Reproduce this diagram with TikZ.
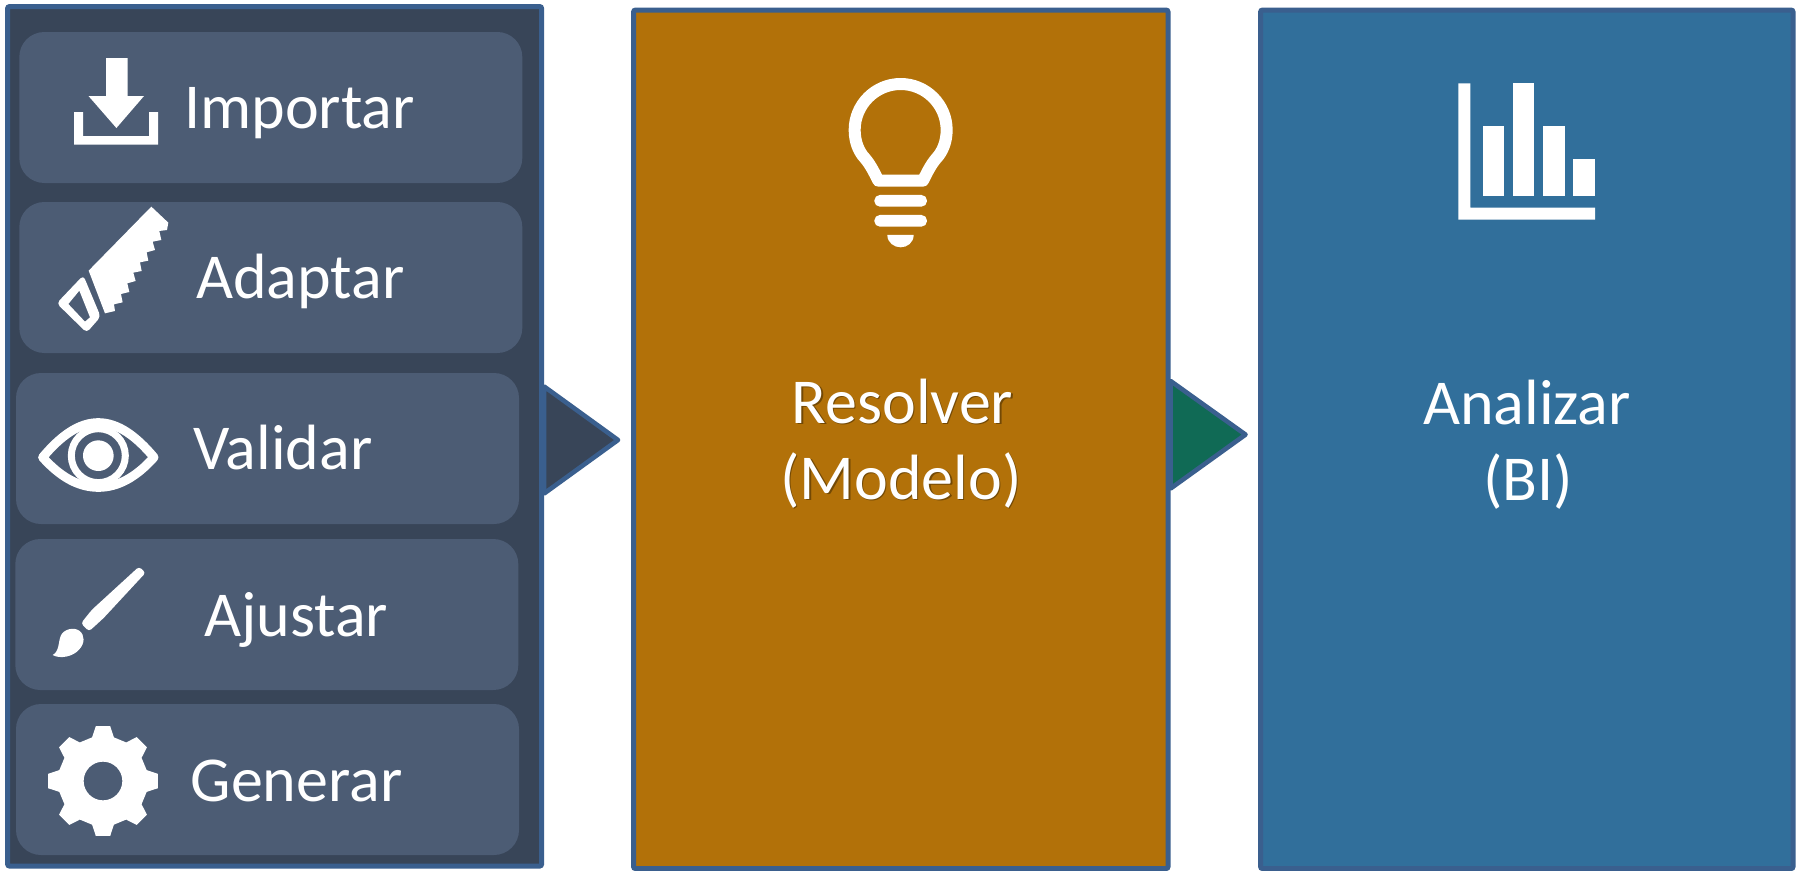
\documentclass[tikz,border=0pt]{standalone}
\usepackage{fontspec}
\setmainfont{Carlito}
\definecolor{edgeblue}{HTML}{3A5F8E}
\definecolor{panelslate}{HTML}{384558}
\definecolor{btnslate}{HTML}{4C5C74}
\definecolor{ochre}{HTML}{B27109}
\definecolor{steel}{HTML}{316F9B}
\definecolor{teal}{HTML}{106A55}
\tikzset{
  panel/.style={draw=edgeblue,line width=5pt,rounded corners=2pt,inner sep=0pt,minimum width=#1},
  btn/.style={fill=btnslate,rounded corners=25pt,inner sep=0pt,minimum width=503pt,minimum height=151pt},
  lab/.style={text=white,font=\fontsize{64}{64}\selectfont,anchor=base west,inner sep=0pt},
  clab/.style={text=white,font=\fontsize{64}{64}\selectfont,anchor=base,inner sep=0pt},
  shad/.style={text=black,opacity=0.35,font=\fontsize{64}{64}\selectfont,anchor=base,inner sep=0pt},
  tri/.style={draw=edgeblue,line width=4.6pt,line join=round}
}
\begin{document}
\begin{tikzpicture}[x=1pt,y=-1pt]
\useasboundingbox (0,0) rectangle (1803,870);
\fill[white] (0,0) rectangle (1803,870);
\node[panel=534pt,minimum height=859.5pt,fill=panelslate] (pL) at (274.6,436.3) {};
\node[panel=534.5pt,minimum height=858.5pt,fill=ochre] (pM) at (900.8,439.3) {};
\node[panel=532.5pt,minimum height=858.5pt,fill=steel] (pR) at (1526.8,439.3) {};
\coordinate (tipA) at (618,440);
\coordinate (tipB) at (1245.5,434.6);
\draw[tri,fill=panelslate] (pL.east |- 0,386.5) -- (tipA) -- (pL.east |- 0,493.5) -- cycle;
\draw[tri,fill=teal] (pM.east |- 0,381) -- (tipB) -- (pM.east |- 0,488.5) -- cycle;
% buttons
\node[btn] (b1) at (270.8,107.5) {};
\node[btn] (b2) at (270.8,277.5) {};
\node[btn] (b3) at (267.5,448.5) {};
\node[btn] (b4) at (266.8,614.5) {};
\node[btn] (b5) at (267.5,779.5) {};
% labels
\node[lab] (t1) at (184,128.8) {Importar};
\node[lab] (t2) at (196,298.5) {Adaptar};
\node[lab] (t3) at (193,469.5) {Validar};
\node[lab] (t4) at (204,636) {Ajustar};
\node[lab] (t5) at (190.5,801) {Generar};
\node[shad] (s6a) at (903.7,424.7) {Resolver};
\node[shad] (s6b) at (902.2,500.2) {(Modelo)};
\node[clab] (t6a) at (902.5,423.5) {Resolver};
\node[clab] (t6b) at (901,499) {(Modelo)};
\node[clab] (t7a) at (1527,424) {Analizar};
\node[clab] (t7b) at (1528,500.5) {(BI)};
% import icon
\fill[white] (106,58) -- (127.5,58) -- (127.5,96) -- (144,96) -- (116.4,128) -- (88.5,96) -- (106,96) -- cycle;
\fill[white] (74,112) -- (83,112) -- (83,136) -- (149,136) -- (149,112) -- (158,112) -- (158,144.7) -- (74,144.7) -- cycle;
% saw
\begin{scope}[shift={(40,200)},scale=0.3333]
\fill[white] (334,20) -- (385,68) -- (381,90) -- (358,93) -- (364,120) -- (338,125) -- (345,150) -- (320,157) -- (325,182) -- (300,187) -- (305,213) -- (280,218) -- (287,243) -- (262,250) -- (268,276) -- (243,282) -- (248,307) -- (222,313) -- (225,333) -- (195,340) -- (146,212) -- cycle;
\fill[white,even odd rule] [rounded corners=4pt] (130,226) -- (182,350) -- (140,398) -- (50,310) -- cycle
  [sharp corners] (118,272) -- (150,352) -- (135,365) -- (85,312) -- cycle;
\end{scope}
% eye
\begin{scope}[shift={(30,410)},scale=0.3333]
\draw[white,line width=9pt,line join=round] (38,142) .. controls (90,80) and (145,38) .. (205,38) .. controls (265,38) and (320,80) .. (372,142) .. controls (320,200) and (265,232) .. (205,232) .. controls (145,232) and (90,200) .. (38,142) -- cycle;
\draw[white,line width=7pt] (205,137) circle[radius=81];
\fill[white] (205,137) circle[radius=46];
\end{scope}
% brush
\begin{scope}[shift={(40,560)},scale=0.3333]
\fill[white,rounded corners=3pt] (297,20) -- (317,38) -- (190,175) -- (147,214) -- (123,190) -- (155,150) -- cycle;
\fill[white] (38,285) .. controls (58,275) and (55,245) .. (62,228) .. controls (70,208) and (100,200) .. (118,212) .. controls (135,225) and (135,250) .. (118,268) .. controls (100,290) and (60,298) .. (38,285) -- cycle;
\end{scope}
% gear
\begin{scope}[shift={(103,781)},scale=0.3333]
\fill[white,even odd rule] (-14:135)
  \foreach \a in {0,45,...,315}{ -- (\a-14:135) -- (\a-7.5:166) -- (\a+7.5:166) -- (\a+14:135) } -- cycle
  (0,0) circle[radius=58];
\end{scope}
% bulb
\begin{scope}[shift={(780,50)},scale=0.3333]
\draw[white,line width=12pt,line join=round] (295,392) .. controls (283,368) and (272,345) .. (255,325) .. controls (236,305) and (224,275) .. (224,240) .. controls (224,164) and (286,102) .. (362,102) .. controls (438,102) and (500,164) .. (500,240) .. controls (500,275) and (488,305) .. (469,325) .. controls (452,345) and (441,368) .. (429,392) -- cycle;
\fill[white,rounded corners=5.5pt] (283,435) rectangle (441,470);
\fill[white,rounded corners=5.5pt] (283,495) rectangle (441,530);
\fill[white] (322,555) -- (401,555) .. controls (401,578) and (382,592) .. (362,592) .. controls (342,592) and (322,578) .. (322,555) -- cycle;
\end{scope}
% chart
\begin{scope}[shift={(1400,50)},scale=0.3333]
\fill[white] (175,100) -- (211,100) -- (211,473) -- (585,473) -- (585,509) -- (175,509) -- cycle;
\fill[white] (248,227) rectangle (313,437);
\fill[white] (338,100) rectangle (403,437);
\fill[white] (428,227) rectangle (494,437);
\fill[white] (519,328) rectangle (585,437);
\end{scope}
\end{tikzpicture}
\end{document}
